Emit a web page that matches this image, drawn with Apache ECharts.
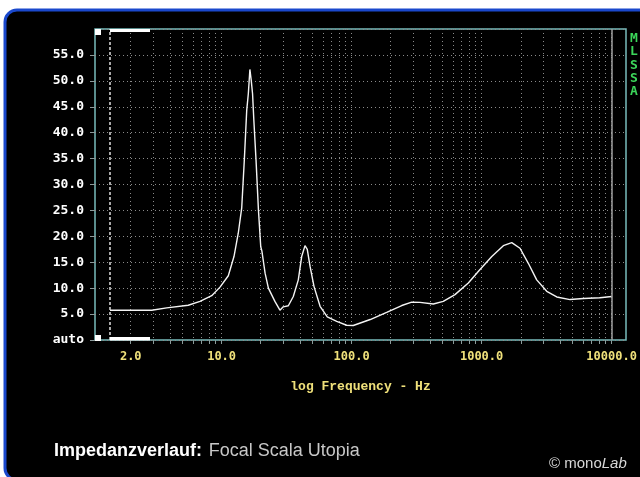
<!DOCTYPE html>
<html>
<head>
<meta charset="utf-8">
<script src="https://cdn.jsdelivr.net/npm/echarts@6/dist/echarts.min.js"></script>
<style>
html, body { margin: 0; padding: 0; background: #fff; }
#main { width: 640px; height: 477px; }
</style>
</head>
<body>
<div id="main"></div>
<script>
// impedance curve, frequency in Hz, impedance in ohm
var freqs = [1.385, 2.9, 3.78, 5.54, 6.82, 8.39, 9.72, 11.26, 12.45, 13.43, 14.28, 14.95, 15.6, 16.05, 16.5,
  16.9, 17.3, 17.7, 18.4, 19.2, 20.0, 20.4, 21.6, 22.9, 25.7, 28.1, 29.8, 32.6, 35.6, 38.9, 41.3, 43.8,
  45.6, 47.9, 51.4, 57.2, 65.0, 76.8, 91.6, 103, 139, 186, 243, 290, 336, 425, 507, 624, 790, 972,
  1197, 1469, 1705, 1973, 2287, 2653, 3169, 3783, 4790, 6058, 8147, 10000];
var ohms = [5.75, 5.75, 6.2, 6.7, 7.45, 8.55, 10.2, 12.4, 16.1, 20.6, 25.5, 34.7, 44.3, 47.5, 52.2,
  50.1, 47.5, 42.4, 34.7, 25.1, 18.0, 17.2, 12.9, 10.0, 7.45, 5.75, 6.4, 6.6, 8.4, 11.6, 16.1, 18.2,
  17.5, 14.2, 10.3, 6.5, 4.45, 3.6, 2.85, 2.8, 3.95, 5.35, 6.65, 7.3, 7.25, 6.95, 7.45, 8.75, 11.0, 13.6,
  16.1, 18.2, 18.8, 17.7, 14.8, 11.6, 9.4, 8.3, 7.8, 8.0, 8.15, 8.4];

var xLabelValues = [2, 10, 100, 1000, 10000];
var xTickValues = [2, 3, 4, 5, 6, 7, 8, 9, 10, 20, 30, 40, 50, 60, 70, 80, 90, 100,
  200, 300, 400, 500, 600, 700, 800, 900, 1000, 2000, 3000, 4000, 5000, 6000, 7000, 8000, 9000, 10000];
var cursorFreq = 1.385;
var endFreq = 10000;

var dom = document.getElementById('main');
var myChart = echarts.init(dom);

var points = freqs.map(function (f, i) { return [f, ohms[i]]; });

var option = {
  animation: false,
  backgroundColor: '#fff',
  grid: {
    left: 95,
    top: 29,
    width: 531,
    height: 311,
    show: true,
    borderColor: '#78bcbc',
    borderWidth: 1.5,
    containLabel: false
  },
  xAxis: {
    type: 'log',
    logBase: 10,
    min: 1.062,
    max: 12900,
    name: 'log Frequency - Hz',
    nameLocation: 'middle',
    nameGap: 40,
    nameTextStyle: {
      color: '#efe07a',
      fontFamily: 'Liberation Mono',
      fontWeight: 'bold',
      fontSize: 13
    },
    axisLine: { show: false },
    axisTick: {
      show: true,
      customValues: xTickValues,
      length: 4,
      lineStyle: { color: '#8a9a9a' }
    },
    axisLabel: {
      customValues: xLabelValues,
      margin: 11,
      color: '#efe07a',
      fontFamily: 'DejaVu Sans Mono',
      fontWeight: 'bold',
      fontSize: 12,
      formatter: function (v) { return Number(v).toFixed(1); }
    },
    splitLine: {
      show: true,
      lineStyle: { color: '#8a8a8a', type: [1, 3], width: 1 }
    }
  },
  yAxis: {
    type: 'value',
    min: 0,
    max: 60,
    interval: 5,
    axisLine: { show: false },
    axisTick: {
      show: true,
      length: 5,
      lineStyle: { color: '#8a9a9a' }
    },
    axisLabel: {
      showMaxLabel: false,
      margin: 11,
      color: '#ffffff',
      fontFamily: 'DejaVu Sans Mono',
      fontWeight: 'bold',
      fontSize: 13,
      formatter: function (v) { return v === 0 ? 'auto' : v.toFixed(1); }
    },
    splitLine: {
      show: true,
      lineStyle: { color: '#8a8a8a', type: [1, 3], width: 1 }
    }
  },
  graphic: [
    {
      type: 'rect', z: -10, silent: true,
      shape: { x: 5, y: 10, width: 700, height: 470, r: 12 },
      style: { fill: '#000', stroke: '#1a48cc', lineWidth: 3 }
    },
    // MLSSA cursor markers
    { type: 'rect', silent: true, z: 10, shape: { x: 95, y: 29, width: 6, height: 6 }, style: { fill: '#fff' } },
    { type: 'rect', silent: true, z: 10, shape: { x: 110, y: 29, width: 40, height: 3 }, style: { fill: '#fff' } },
    { type: 'rect', silent: true, z: 10, shape: { x: 95, y: 335, width: 6, height: 6 }, style: { fill: '#fff' } },
    { type: 'rect', silent: true, z: 10, shape: { x: 110, y: 337, width: 40, height: 3.5 }, style: { fill: '#fff' } },
    {
      type: 'text', silent: true, left: 630, top: 32,
      style: {
        text: 'M\nL\nS\nS\nA',
        fill: '#3cd65a',
        font: 'bold 13px "DejaVu Sans Mono"',
        lineHeight: 13.3
      }
    },
    {
      type: 'text', silent: true, left: 54, top: 442,
      style: {
        text: '{b|Impedanzverlauf:}  {n|Focal Scala Utopia}',
        rich: {
          b: { fill: '#fff', color: '#fff', fontFamily: 'Liberation Sans', fontWeight: 'bold', fontSize: 18 },
          n: { fill: '#c8c8c8', color: '#c8c8c8', fontFamily: 'Liberation Sans', fontSize: 18 }
        }
      }
    },
    {
      type: 'text', silent: true, left: 549, top: 456,
      style: {
        text: '{n|© mono}{i|Lab}',
        rich: {
          n: { fill: '#d8d8d8', color: '#d8d8d8', fontFamily: 'Liberation Sans', fontSize: 15 },
          i: { fill: '#d8d8d8', color: '#d8d8d8', fontFamily: 'Liberation Sans', fontStyle: 'italic', fontSize: 15 }
        }
      }
    }
  ],
  series: [
    {
      name: 'Impedanz',
      type: 'line',
      data: points,
      showSymbol: false,
      smooth: false,
      lineStyle: { color: '#f4f4f4', width: 1.4 },
      markLine: {
        silent: true,
        symbol: 'none',
        label: { show: false },
        data: [
          { xAxis: cursorFreq, lineStyle: { color: '#e0e0e0', type: [3, 2], width: 1.5 } },
          { xAxis: endFreq, lineStyle: { color: '#a0a0a0', type: 'solid', width: 1.5 } }
        ]
      }
    }
  ]
};

if (option && typeof option === 'object') {
  myChart.setOption(option, true);
}
</script>
</body>
</html>
